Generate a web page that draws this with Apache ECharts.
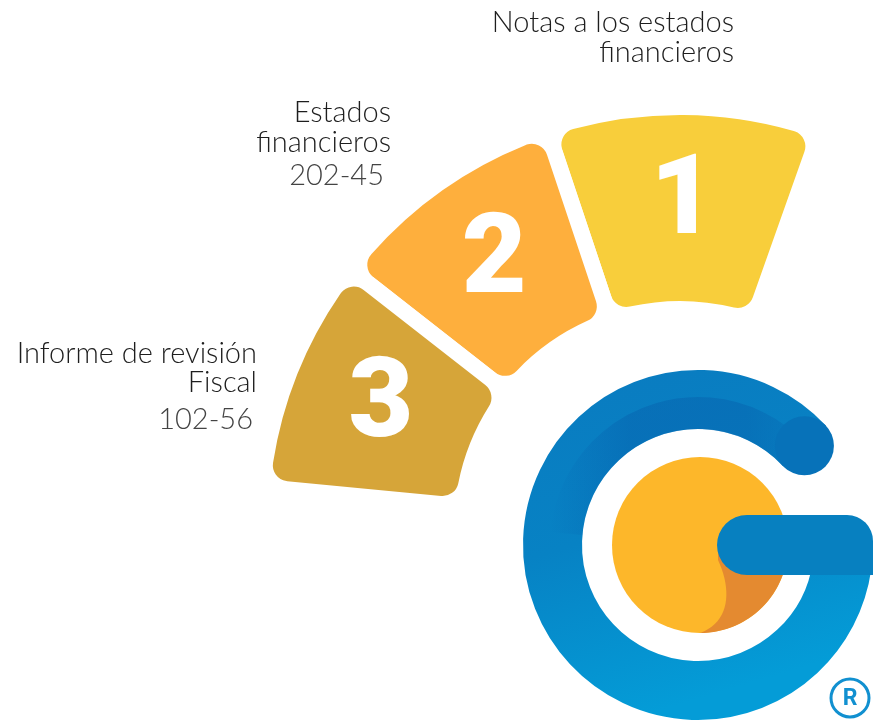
<!DOCTYPE html>
<html>
<head>
<meta charset="utf-8">
<script src="https://cdn.jsdelivr.net/npm/echarts@6/dist/echarts.min.js"></script>
<style>html,body{margin:0;padding:0;background:#fff;}#c{width:873px;height:722px;}</style>
</head>
<body>
<div id="c"></div>
<script>
// ---- data ----
const stepNumbers = ['1', '2', '3'];
const stepSpans = [38, 33.5, 32.5];          // angular extent of each step (degrees)
const fillerSpan = 256;                       // remaining, invisible part of the ring
const stepTitles = [
  ['Notas a los estados', 'financieros'],
  ['Estados', 'financieros'],
  ['Informe de revisión', 'Fiscal']
];
const stepCodes = ['', '202-45', '102-56'];

// ---- styles ----
const stepColors = ['#F8CE3B', '#FEAF3D', '#D6A539'];
const titleFont = '300 29px Lato, "Open Sans", sans-serif';
const codeFont = '300 29px Lato, "Open Sans", sans-serif';
const titleColor = '#1e1e1e';
const codeColor = '#444444';

const chart = echarts.init(document.getElementById('c'), null, {renderer: 'canvas'});

const pieData = stepNumbers.map((n, i) => ({
  name: n,
  value: stepSpans[i],
  itemStyle: {color: stepColors[i]}
}));
pieData.push({
  name: 'rest', value: fillerSpan,
  itemStyle: {color: 'rgba(0,0,0,0)', borderWidth: 0},
  label: {show: false}
});

function txt(x, y, text, font, color) {
  return {type: 'text', x: x, y: y, silent: true,
    style: {text: text, font: font, fill: color, textAlign: 'right', textVerticalAlign: 'middle'}};
}

const textEls = [
  txt(734, 23, stepTitles[0][0], titleFont, titleColor),
  txt(734, 53, stepTitles[0][1], titleFont, titleColor),
  txt(391, 113, stepTitles[1][0], titleFont, titleColor),
  txt(391, 143, stepTitles[1][1], titleFont, titleColor),
  txt(384, 176, stepCodes[1], codeFont, codeColor),
  txt(257, 354, stepTitles[2][0], titleFont, titleColor),
  txt(257, 383, stepTitles[2][1], titleFont, titleColor),
  txt(253, 420, stepCodes[2], codeFont, codeColor)
];

const D = Math.PI / 180;
const gcx = 698, gcy = 545;
const ringGrad = {type: 'linear', x: 0, y: 0, x2: 0.3, y2: 1, colorStops: [
  {offset: 0, color: '#0A7BC0'}, {offset: 0.5, color: '#0782C4'}, {offset: 1, color: '#049CD7'}]};
const bandGrad = {type: 'linear', x: 0, y: 0, x2: 1, y2: 0, colorStops: [
  {offset: 0, color: 'rgba(6,90,170,0)'}, {offset: 0.3, color: 'rgba(6,92,170,0.4)'},
  {offset: 0.75, color: 'rgba(6,96,172,0.45)'}, {offset: 1, color: 'rgba(6,100,175,0.2)'}]};

// crescent outline (logo decoration): cubic curve + circle arc
function crescentPoints() {
  const pts = [];
  const p0 = [718, 545], p1 = [718, 560], c1 = [732, 590], c2 = [730, 622], p3 = [700, 633];
  pts.push(p0);
  for (let i = 0; i <= 20; i++) {
    const t = i / 20, u = 1 - t;
    pts.push([
      u * u * u * p1[0] + 3 * u * u * t * c1[0] + 3 * u * t * t * c2[0] + t * t * t * p3[0],
      u * u * u * p1[1] + 3 * u * u * t * c1[1] + 3 * u * t * t * c2[1] + t * t * t * p3[1]
    ]);
  }
  for (let a = 90; a >= 0; a -= 3) {
    pts.push([700 + 88 * Math.cos(a * D), 545 + 88 * Math.sin(a * D)]);
  }
  return pts;
}

const logoEls = [
  {type: 'circle', silent: true, z: 1, shape: {cx: 700, cy: 545, r: 88}, style: {fill: '#FDB72A'}},
  {type: 'polygon', silent: true, z: 2, shape: {points: crescentPoints()}, style: {fill: '#E48A30'}},
  {type: 'arc', silent: true, z: 3,
    shape: {cx: gcx, cy: gcy, r: 145.5, startAngle: -43 * D, endAngle: -352 * D, clockwise: false},
    style: {stroke: ringGrad, lineWidth: 59, fill: null, lineCap: 'butt'}},
  {type: 'arc', silent: true, z: 3,
    shape: {cx: gcx, cy: gcy, r: 132, startAngle: -175 * D, endAngle: -43 * D, clockwise: true},
    style: {stroke: bandGrad, lineWidth: 32, fill: null, lineCap: 'butt'}},
  {type: 'circle', silent: true, z: 3,
    shape: {cx: gcx + 145.5 * Math.cos(43 * D), cy: gcy - 145.5 * Math.sin(43 * D), r: 29.5},
    style: {fill: '#0772B9'}},
  {type: 'rect', silent: true, z: 4,
    shape: {x: 717, y: 515, width: 156, height: 60, r: [30, 26, 0, 30]},
    style: {fill: '#0780C0'}},
  {type: 'circle', silent: true, z: 5, shape: {cx: 850, cy: 698, r: 19},
    style: {fill: '#fff', stroke: '#1190D0', lineWidth: 3}},
  {type: 'text', silent: true, z: 6, x: 850, y: 699,
    style: {text: 'R', font: 'bold 23px Roboto, sans-serif', fill: '#1190D0', textAlign: 'center', textVerticalAlign: 'middle'}}
];

chart.setOption({
  animation: false,
  backgroundColor: '#ffffff',
  series: [{
    type: 'pie',
    silent: true,
    center: [680, 527],
    radius: [218, 420],
    startAngle: 70.5,
    clockwise: false,
    avoidLabelOverlap: false,
    itemStyle: {borderColor: '#ffffff', borderWidth: 16, borderRadius: 24},
    label: {
      show: true, position: 'inside', formatter: '{b}', color: '#ffffff',
      fontFamily: 'Roboto', fontWeight: 900, fontSize: 112
    },
    labelLine: {show: false},
    emphasis: {disabled: true},
    data: pieData
  }],
  graphic: {elements: textEls.concat(logoEls)}
});
</script>
</body>
</html>
